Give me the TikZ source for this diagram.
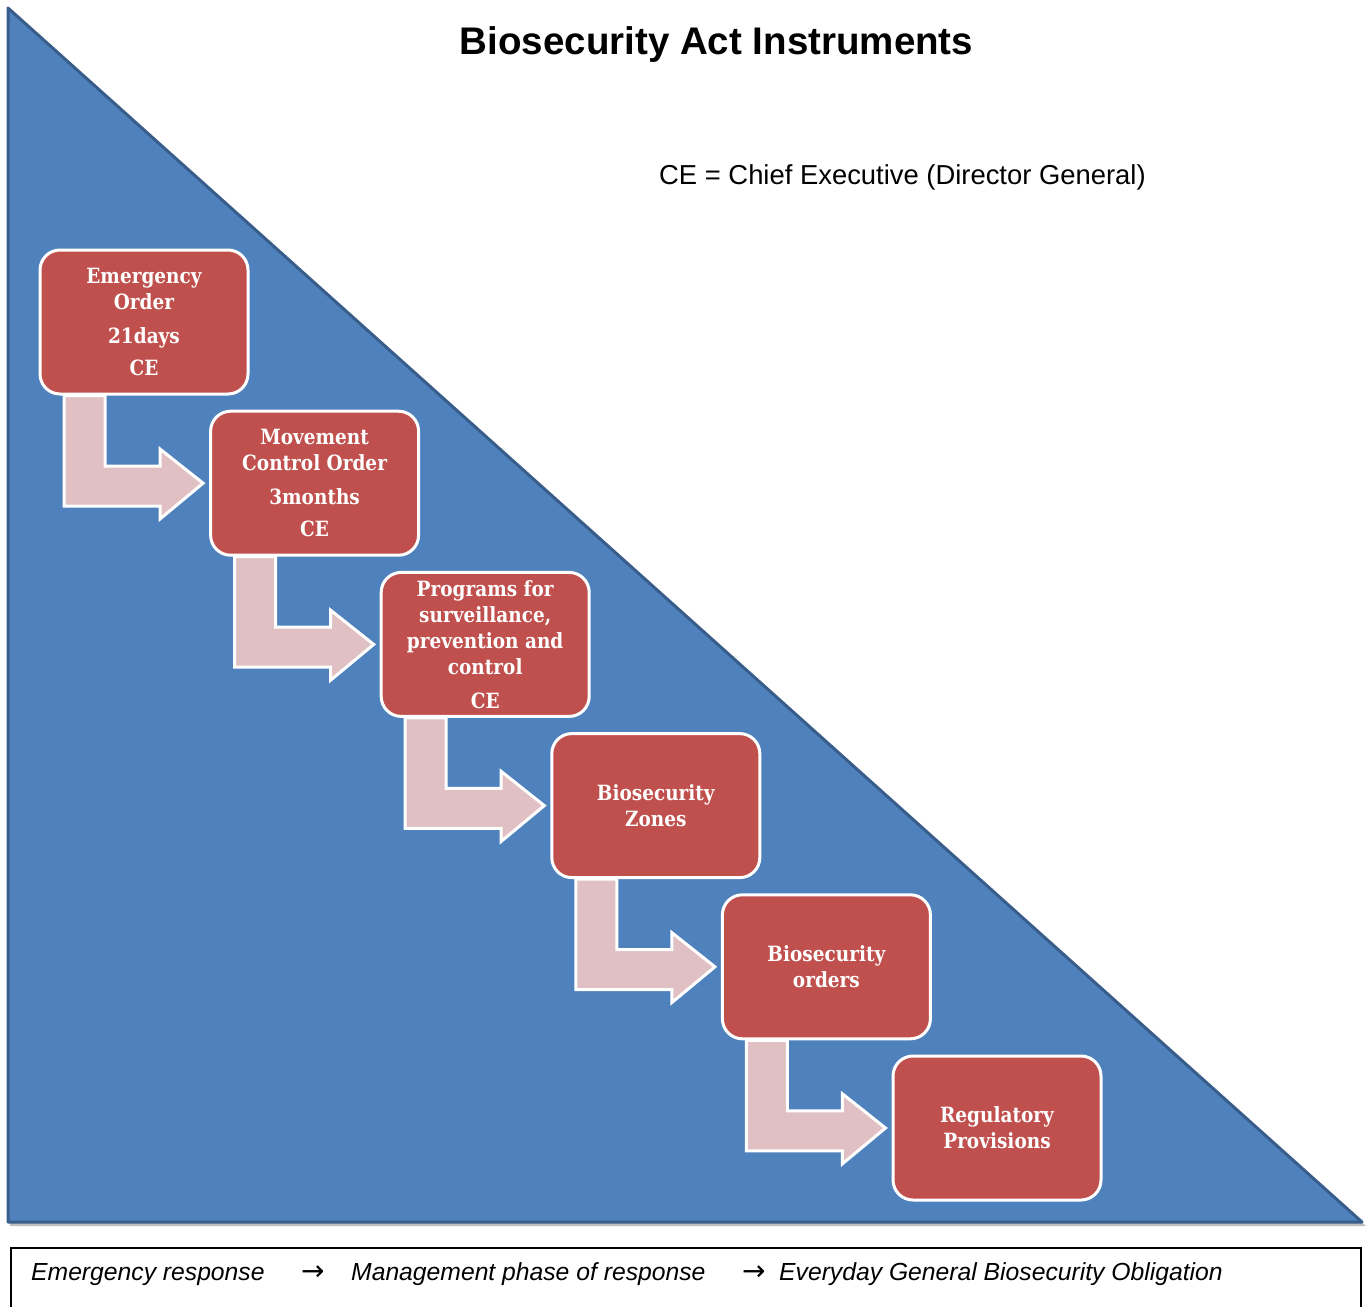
\documentclass[tikz,border=0pt]{standalone}
\usepackage{fontspec}
\setmainfont{Liberation Sans}
\newfontfamily\boxfont[FakeStretch=0.88]{DejaVu Serif}
\newfontfamily\symfont{DejaVu Sans}
\usetikzlibrary{calc}
\definecolor{triblue}{HTML}{4F81BD}
\definecolor{triedge}{HTML}{385D8A}
\definecolor{boxred}{HTML}{C0504D}
\definecolor{arrowpink}{HTML}{E0C0C2}
\begin{document}
\begin{tikzpicture}[x=1pt,y=-1pt,
  stepbox/.style={draw=white, line width=3pt, fill=boxred, rounded corners=20pt,
    minimum width=208pt, minimum height=144pt, inner sep=0pt, text=white, align=center,
    font=\boxfont\bfseries\fontsize{21}{26}\selectfont},
  bentarrow/.style={draw=white, line width=3pt, fill=arrowpink, line join=miter},
  legendtext/.style={font=\itshape\fontsize{24.7}{30}\selectfont, anchor=base west, inner sep=0pt},
  legendarrow/.style={font=\symfont\fontsize{28}{32}\selectfont, anchor=base west, inner sep=0pt}]
\useasboundingbox (0,0) rectangle (1370,1306);
% triangle
\fill[black, opacity=0.25] (10,12) -- (10,1226) -- (1366,1226) -- cycle;
\filldraw[fill=triblue, draw=triedge, line width=3pt, line join=round] (8,8) -- (8,1222) -- (1362,1222) -- cycle;
% title and note
\node[font=\bfseries\fontsize{38.5}{46}\selectfont, anchor=base, inner sep=0pt] (title) at (716.5,55) {Biosecurity Act Instruments};
\node[font=\fontsize{27.4}{32}\selectfont, anchor=base west, inner sep=0pt] (note) at (659,184) {CE = Chief Executive (Director General)};
% boxes
\node[stepbox] (b1) at (144,322) {Emergency\\Order\\[8pt]21days\\[6pt]CE};
\node[stepbox] (b2) at (314.6,483.2) {Movement\\Control Order\\[8pt]3months\\[6pt]CE};
\node[stepbox] (b3) at (485.2,644.4) {Programs for\\surveillance,\\prevention and\\control\\[8pt]CE};
\node[stepbox] (b4) at (655.8,805.6) {Biosecurity\\Zones};
\node[stepbox] (b5) at (826.4,966.8) {Biosecurity\\orders};
\node[stepbox] (b6) at (997,1128) {Regulatory\\Provisions};
% bent arrows
\foreach \a/\b in {b1/b2,b2/b3,b3/b4,b4/b5,b5/b6}{
  \draw[bentarrow] ($(\a.center)+(-80,73.5)$) -- ++(41,0) |- ($(\a.center)+(16,144)$)
    -- ++(0,-17) -- ($(\b.west)+(-6,0)$) -- ($(\a.center)+(16,197)$) -- ++(0,-13)
    -- ($(\a.center)+(-80,184)$) -- cycle;
}
% legend
\node[draw=black, line width=1.5pt, minimum width=1350pt, minimum height=64pt, anchor=north west, inner sep=0pt] (legend) at (10,1247) {};
\node[legendtext] (l1) at (31,1280) {Emergency response};
\node[legendarrow] (a1) at (301,1280) {→};
\node[legendtext] (l2) at (351,1280) {Management phase of response};
\node[legendarrow] (a2) at (742,1280) {→};
\node[legendtext] (l3) at (779,1280) {Everyday General Biosecurity Obligation};
\end{tikzpicture}
\end{document}
